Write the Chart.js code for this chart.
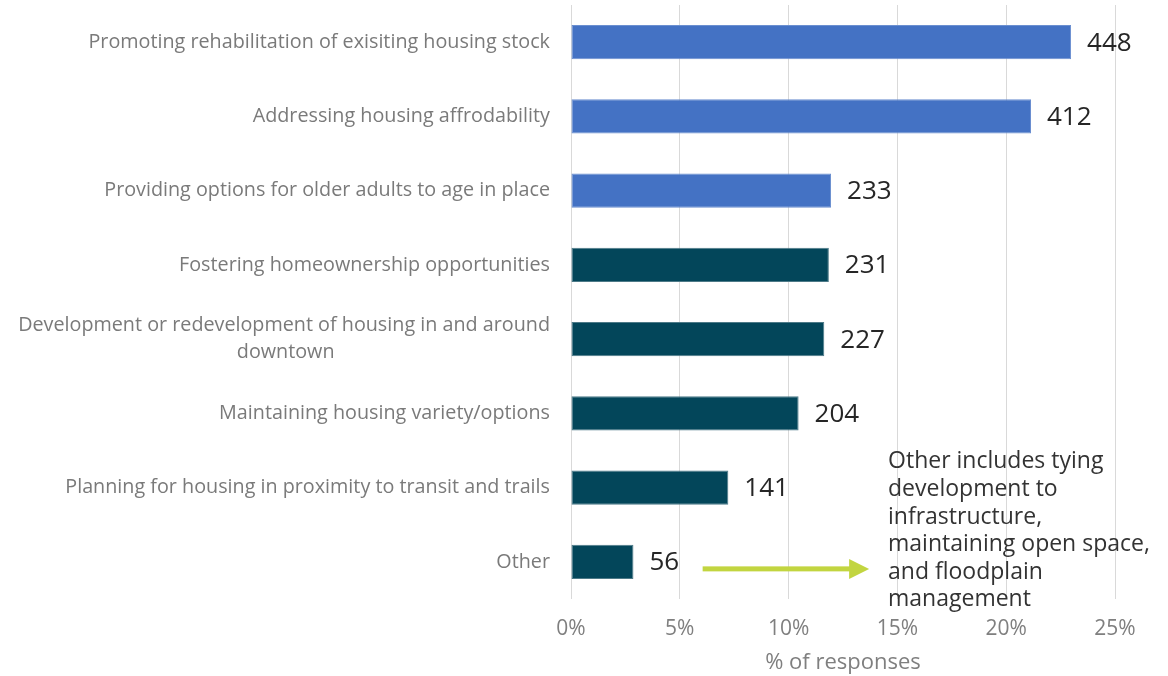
<!DOCTYPE html>
<html>
<head>
<meta charset="utf-8">
<script src="https://cdn.jsdelivr.net/npm/chart.js@4"></script>
<style>
  html, body { margin: 0; padding: 0; background: #fff; }
  #wrap { width: 1168px; height: 676px; }
</style>
</head>
<body>
<div id="wrap"><canvas id="chart" width="1168" height="676"></canvas></div>
<script>
// categories (top to bottom)
const categories = [
  ["Promoting rehabilitation of exisiting housing stock"],
  ["Addressing housing affrodability"],
  ["Providing options for older adults to age in place"],
  ["Fostering homeownership opportunities"],
  ["Development or redevelopment of housing in and around", "downtown"],
  ["Maintaining housing variety/options"],
  ["Planning for housing in proximity to transit and trails"],
  ["Other"]
];
// share of responses (%)
const shareValues = [22.98, 21.14, 11.95, 11.85, 11.64, 10.46, 7.23, 2.87];
// response counts shown beside the bars
const countLabels = [448, 412, 233, 231, 227, 204, 141, 56];
const barColors = ["#4472c4", "#4472c4", "#4472c4", "#03465a", "#03465a", "#03465a", "#03465a", "#03465a"];
const borderColors = ["#6b8fd0", "#6b8fd0", "#6b8fd0", "#4d7a88", "#4d7a88", "#4d7a88", "#4d7a88", "#4d7a88"];
const xTicks = [0, 5, 10, 15, 20, 25];

const noteLines = [
  "Other includes tying",
  "development to",
  "infrastructure,",
  "maintaining open space,",
  "and floodplain",
  "management"
];
const arrowFrom = 6.05, arrowTo = 13.7, noteX = 14.57;

const FONT = "'Open Sans', 'Noto Sans', sans-serif";
const LABEL_SIZE = 19.75;

// measure text so the wrapped label line can sit centred under the first line
const measureCtx = document.createElement("canvas").getContext("2d");
function centreUnder(first, second) {
  measureCtx.font = LABEL_SIZE + "px " + FONT;
  const w1 = measureCtx.measureText(first).width;
  const target = (w1 + measureCtx.measureText(second).width) / 2;
  let s = second;
  while (measureCtx.measureText(s + " ").width <= target) s += " ";
  return s;
}

// counts at the end of each bar, plus the note and arrow for "Other"
const extrasPlugin = {
  id: "extras",
  afterDatasetsDraw(chart) {
    const ctx = chart.ctx;
    const meta = chart.getDatasetMeta(0);
    const xs = chart.scales.x;
    ctx.save();
    ctx.font = "26px " + FONT;
    ctx.fillStyle = "#262626";
    ctx.textAlign = "left";
    ctx.textBaseline = "middle";
    meta.data.forEach((bar, i) => {
      ctx.fillText(String(countLabels[i]), bar.x + 16, bar.y + 1);
    });

    const other = meta.data[meta.data.length - 1];
    const ay = other.y + 7;
    const x0 = xs.getPixelForValue(arrowFrom);
    const x1 = xs.getPixelForValue(arrowTo);
    ctx.fillStyle = "#c2d540";
    ctx.fillRect(x0, ay - 2.5, (x1 - 19) - x0, 5);
    ctx.beginPath();
    ctx.moveTo(x1 - 20, ay - 10);
    ctx.lineTo(x1, ay);
    ctx.lineTo(x1 - 20, ay + 10);
    ctx.closePath();
    ctx.fill();

    ctx.font = "23px " + FONT;
    ctx.fillStyle = "#333333";
    const nx = xs.getPixelForValue(noteX);
    noteLines.forEach((line, i) => {
      ctx.fillText(line, nx, other.y - 100 + i * 27.6);
    });
    ctx.restore();
  }
};

new Chart(document.getElementById("chart"), {
  type: "bar",
  data: {
    labels: categories,
    datasets: [{
      data: shareValues,
      backgroundColor: barColors,
      borderColor: borderColors,
      borderWidth: 1,
      borderSkipped: false,
      categoryPercentage: 1,
      barPercentage: 0.46
    }]
  },
  options: {
    indexAxis: "y",
    responsive: false,
    animation: false,
    layout: { padding: { top: 5, right: 53, left: 0, bottom: 0 } },
    plugins: { legend: { display: false }, tooltip: { enabled: false } },
    scales: {
      x: {
        min: 0,
        max: 25,
        afterBuildTicks(scale) { scale.ticks = xTicks.map(v => ({ value: v })); },
        afterFit(scale) { scale.height = 77; },
        grid: { color: "#d9d9d9", lineWidth: 1, drawTicks: false },
        border: { display: false },
        ticks: {
          padding: 17,
          color: "#7f7f7f",
          font: { family: FONT, size: 21 },
          callback: v => v + "%"
        },
        title: {
          display: true,
          text: "% of responses",
          color: "#7f7f7f",
          font: { family: FONT, size: 22 },
          padding: { top: 0, bottom: 0 }
        }
      },
      y: {
        afterFit(scale) {
          scale.width = 571;
          scale.paddingTop = 0;
          scale.paddingBottom = 0;
        },
        grid: { display: false, drawTicks: false },
        border: { display: false },
        ticks: {
          padding: 21,
          color: "#7a7a7a",
          font: { family: FONT, size: LABEL_SIZE, lineHeight: 1.37 },
          callback(value) {
            const lines = categories[value];
            return lines.map((l, i) => i === 0 ? l : centreUnder(lines[0], l));
          }
        }
      }
    }
  },
  plugins: [extrasPlugin]
});
</script>
</body>
</html>
